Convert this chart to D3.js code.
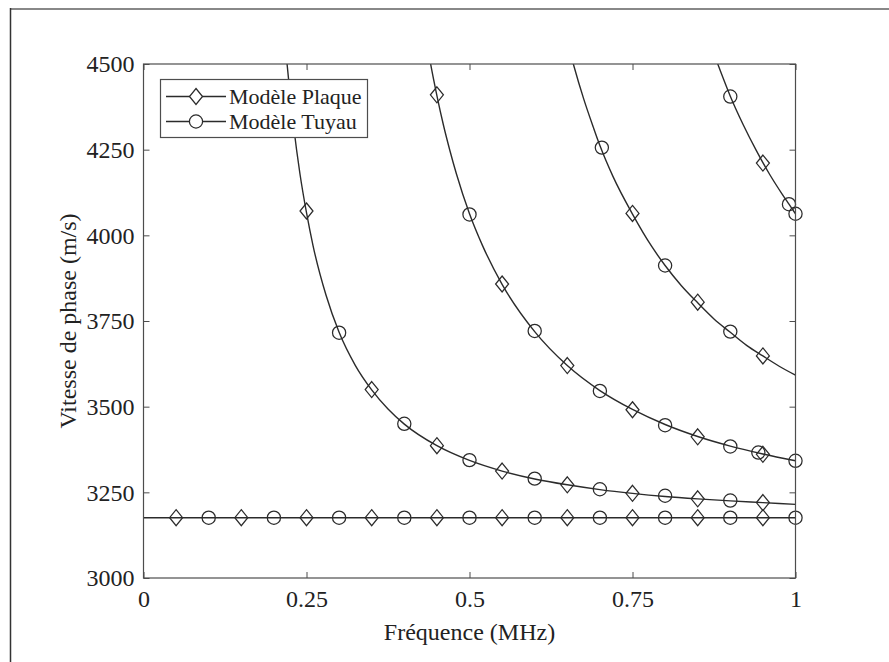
<!DOCTYPE html>
<html>
<head>
<meta charset="utf-8">
<script src="https://cdn.jsdelivr.net/npm/d3@7"></script>
<style>
  body { margin: 0; background: #fff; }
  svg { display: block; }
  text { font-family: "Liberation Serif", "Times New Roman", serif; fill: #222; }
</style>
</head>
<body>
<svg id="chart" width="889" height="662"></svg>
<script>
// Axis ticks and labels
const freqTicks = [0, 0.25, 0.5, 0.75, 1];
const freqTickLabels = ["0", "0.25", "0.5", "0.75", "1"];
const speedTicks = [3000, 3250, 3500, 3750, 4000, 4250, 4500];
const legendLabels = ["Modèle Plaque", "Modèle Tuyau"];

// Dispersion curves: [frequency (MHz), phase velocity (m/s)]
const mode0Line = [[0, 3176], [1, 3176]];
const mode1Line = [
  [0.21, 4745], [0.215, 4616], [0.22, 4504], [0.225, 4407], [0.23, 4322],
  [0.24, 4179], [0.25, 4066], [0.26, 3970], [0.28, 3825], [0.3, 3717],
  [0.325, 3620], [0.35, 3549], [0.375, 3493], [0.4, 3449], [0.45, 3386],
  [0.5, 3343], [0.55, 3312], [0.6, 3289], [0.65, 3272], [0.7, 3258],
  [0.75, 3247], [0.8, 3238], [0.85, 3231], [0.9, 3225], [0.95, 3220], [1, 3215]
];
const mode2Line = [
  [0.42, 4745], [0.43, 4616], [0.44, 4504], [0.45, 4408], [0.46, 4322],
  [0.47, 4247], [0.48, 4179], [0.5, 4063], [0.52, 3970], [0.55, 3857],
  [0.6, 3719], [0.65, 3620], [0.7, 3547], [0.75, 3492], [0.8, 3448],
  [0.85, 3413], [0.9, 3385], [0.95, 3362], [1, 3342]
];
const mode3Line = [
  [0.64, 4645], [0.65, 4566], [0.66, 4495], [0.675, 4399], [0.69, 4315],
  [0.7, 4262], [0.72, 4172], [0.75, 4062], [0.78, 3966], [0.8, 3912],
  [0.825, 3853], [0.85, 3803], [0.875, 3756], [0.9, 3717], [0.925, 3679],
  [0.95, 3648], [0.975, 3618], [1, 3592]
];
const mode4Line = [
  [0.86, 4616], [0.87, 4557], [0.88, 4504], [0.89, 4454], [0.9, 4406],
  [0.92, 4322], [0.94, 4247], [0.95, 4212], [0.96, 4179], [0.98, 4119],
  [0.99, 4091], [1, 4063]
];

// Plate model points (diamonds)
const platePoints = [
  [0.05, 3176], [0.15, 3176], [0.25, 3176], [0.35, 3176], [0.45, 3176],
  [0.55, 3176], [0.65, 3176], [0.75, 3176], [0.85, 3176], [0.95, 3176],
  [0.25, 4071], [0.35, 3550], [0.45, 3386], [0.55, 3312], [0.65, 3272],
  [0.75, 3247], [0.85, 3231], [0.95, 3220],
  [0.45, 4410], [0.55, 3858], [0.65, 3620], [0.75, 3491], [0.85, 3412], [0.95, 3361],
  [0.75, 4064], [0.85, 3805], [0.95, 3648],
  [0.95, 4211]
];
// Pipe model points (circles)
const pipePoints = [
  [0.1, 3176], [0.2, 3176], [0.3, 3176], [0.4, 3176], [0.5, 3176],
  [0.6, 3176], [0.7, 3176], [0.8, 3176], [0.9, 3176], [1, 3176],
  [0.3, 3716], [0.4, 3450], [0.5, 3344], [0.6, 3290], [0.7, 3259],
  [0.8, 3240], [0.9, 3226],
  [0.5, 4061], [0.6, 3721], [0.7, 3546], [0.8, 3446], [0.9, 3384], [0.943, 3366], [1, 3342],
  [0.703, 4256], [0.8, 3912], [0.9, 3719],
  [0.9, 4405], [0.99, 4091], [1, 4063]
];

const svg = d3.select("#chart");
const W = 889, H = 662;
const plot = { left: 143.5, right: 795.5, top: 64, bottom: 578 };
const ink = "#2b2b2b";
const axisInk = "#4d4d4d";

// Outer frame (top and left edges)
svg.append("line").attr("x1", 10).attr("x2", W).attr("y1", 9).attr("y2", 9)
  .attr("stroke", "#888").attr("stroke-width", 2);
svg.append("line").attr("x1", 10.5).attr("x2", 10.5).attr("y1", 8).attr("y2", H)
  .attr("stroke", "#333").attr("stroke-width", 1.5);

const x = d3.scaleLinear().domain([0, 1]).range([plot.left, plot.right]);
const y = d3.scaleLinear().domain([3000, 4500]).range([plot.bottom, plot.top]);

svg.append("defs").append("clipPath").attr("id", "plotClip")
  .append("rect")
  .attr("x", plot.left).attr("y", plot.top)
  .attr("width", plot.right - plot.left).attr("height", plot.bottom - plot.top);

// Axes with inward ticks on all four sides
const tick = 6;
const gBottom = svg.append("g").attr("transform", `translate(0,${plot.bottom})`)
  .call(d3.axisBottom(x).tickValues(freqTicks)
    .tickFormat((d, i) => freqTickLabels[i]).tickSizeInner(-tick).tickSizeOuter(0).tickPadding(12));
const gTop = svg.append("g").attr("transform", `translate(0,${plot.top})`)
  .call(d3.axisTop(x).tickValues(freqTicks).tickFormat("").tickSizeInner(-tick).tickSizeOuter(0));
const gLeft = svg.append("g").attr("transform", `translate(${plot.left},0)`)
  .call(d3.axisLeft(y).tickValues(speedTicks).tickFormat(d3.format("d"))
    .tickSizeInner(-tick).tickSizeOuter(0).tickPadding(9));
const gRight = svg.append("g").attr("transform", `translate(${plot.right},0)`)
  .call(d3.axisRight(y).tickValues(speedTicks).tickFormat("").tickSizeInner(-tick).tickSizeOuter(0));

[gBottom, gTop, gLeft, gRight].forEach(g => {
  g.select(".domain").remove();
  g.selectAll(".tick line").attr("stroke", axisInk).attr("stroke-width", 1);
  g.selectAll("text").attr("font-size", 24).attr("fill", "#222")
    .style("font-family", '"Liberation Serif", serif');
});

// Curves
const line = d3.line().x(d => x(d[0])).y(d => y(d[1])).curve(d3.curveMonotoneX);
const curves = svg.append("g").attr("clip-path", "url(#plotClip)");
[mode0Line, mode1Line, mode2Line, mode3Line, mode4Line].forEach(pts => {
  curves.append("path").datum(pts).attr("d", line)
    .attr("fill", "none").attr("stroke", ink).attr("stroke-width", 1.4);
});

// Markers
const diamond = "M0,-8L6.5,0L0,8L-6.5,0Z";
const marks = svg.append("g");
marks.selectAll("path.plate").data(platePoints).join("path")
  .attr("class", "plate")
  .attr("transform", d => `translate(${x(d[0])},${y(d[1])})`)
  .attr("d", diamond)
  .attr("fill", "none").attr("stroke", ink).attr("stroke-width", 1.25);
marks.selectAll("circle.pipe").data(pipePoints).join("circle")
  .attr("class", "pipe")
  .attr("cx", d => x(d[0])).attr("cy", d => y(d[1])).attr("r", 6.6)
  .attr("fill", "none").attr("stroke", ink).attr("stroke-width", 1.25);

// Axes box
svg.append("rect")
  .attr("x", plot.left).attr("y", plot.top)
  .attr("width", plot.right - plot.left).attr("height", plot.bottom - plot.top)
  .attr("fill", "none").attr("stroke", axisInk).attr("stroke-width", 1.2);

// Axis titles
svg.append("text")
  .attr("x", (plot.left + plot.right) / 2).attr("y", 640)
  .attr("text-anchor", "middle").attr("font-size", 24)
  .text("Fréquence (MHz)");
svg.append("text")
  .attr("transform", `translate(76,${(plot.top + plot.bottom) / 2}) rotate(-90)`)
  .attr("text-anchor", "middle").attr("font-size", 24)
  .text("Vitesse de phase (m/s)");

// Legend
const lg = svg.append("g");
lg.append("rect").attr("x", 160.5).attr("y", 79.5).attr("width", 207).attr("height", 58)
  .attr("fill", "#fff").attr("stroke", axisInk).attr("stroke-width", 1.2);
legendLabels.forEach((lab, i) => {
  const cy = 96.5 + i * 25;
  lg.append("line").attr("x1", 166).attr("x2", 226).attr("y1", cy).attr("y2", cy)
    .attr("stroke", ink).attr("stroke-width", 1.4);
  if (i === 0) {
    lg.append("path").attr("transform", `translate(196,${cy})`).attr("d", diamond)
      .attr("fill", "#fff").attr("stroke", ink).attr("stroke-width", 1.25);
  } else {
    lg.append("circle").attr("cx", 196).attr("cy", cy).attr("r", 6.6)
      .attr("fill", "#fff").attr("stroke", ink).attr("stroke-width", 1.25);
  }
  lg.append("text").attr("x", 229).attr("y", cy).attr("dy", "0.35em")
    .attr("font-size", 22).text(lab);
});
</script>
</body>
</html>
